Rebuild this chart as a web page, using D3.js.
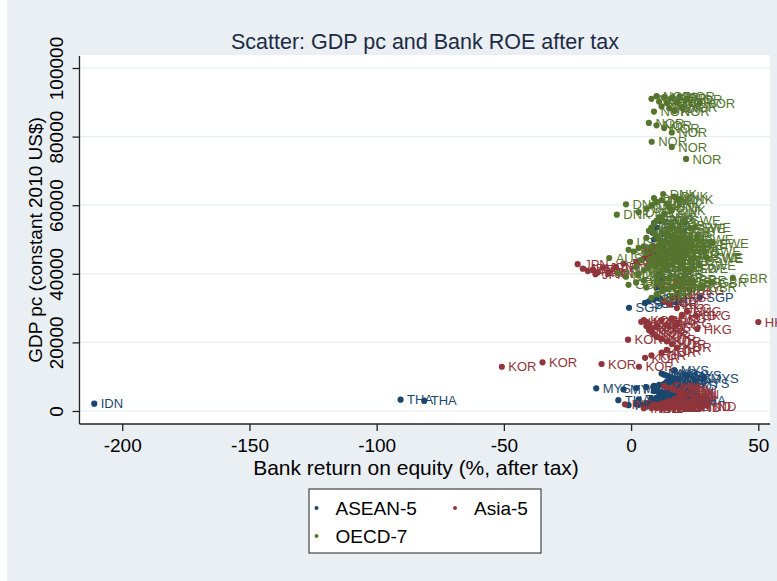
<!DOCTYPE html>
<html>
<head>
<meta charset="utf-8">
<script src="https://cdn.jsdelivr.net/npm/d3@7"></script>
<style>
  body { margin: 0; background: #fff; }
  text { font-family: "Liberation Sans", Arial, Helvetica, sans-serif; }
</style>
</head>
<body>
<div id="chart"></div>
<script>
// tick values
var xTicks = [-200, -150, -100, -50, 0, 50];
var yTicks = [0, 20000, 40000, 60000, 80000, 100000];

// [bank ROE after tax (%), GDP pc constant 2010 US$]
// ASEAN-5
var idn = [[-211,2130],[2,2000],[8,2100],[12,2200],[15,2300],[14,2400],[17,2500],[16,2650],[18,2800],[19,2950],[17,3100],[20,3250],[18,3400],[16,3550],[15,3700],[14,3850],[13,4000],[10,1900],[22,2550],[21,3000]];
var tha = [[-90.6,3300],[-81.3,3000],[-5,3150],[3,3400],[8,3600],[10,3800],[12,3950],[13,4100],[11,4300],[14,4500],[15,4700],[12,4900],[13,5100],[14,5300],[12,5500],[11,5700],[10,5800],[9,5900],[24.5,3200],[20,4000]];
var mys = [[-13.7,6600],[-3,6300],[2,6700],[6,7000],[9,7300],[11,7600],[13,7900],[15,8200],[14,8500],[16,8800],[17,9100],[18,9400],[16,9700],[15,10000],[14,10300],[13,10600],[12,10900],[28.7,9600],[17,11900],[22,10400],[25,8200],[20,7400]];
var phl = [[5,1750],[8,1800],[10,1850],[12,1900],[11,2000],[13,2100],[14,2200],[15,2300],[13,2400],[12,2500],[11,2600],[10,2750],[9,2900],[-1,1700],[3,1800],[16,2000],[7,2300],[18,2700]];
var sgp = [[-0.8,30100],[5.5,31500],[7,32000],[9,32500],[11,33000],[12.6,31800],[27,33200],[10,36000],[12,38000],[11,40000],[13,42000],[12,44000],[10,46000],[11,48000],[9,50000],[10,51000],[8.5,52000],[9,54800],[10,53500],[11,55500]];
// Asia-5
var chn = [[8,1400],[10,1550],[9,1700],[11,1900],[12,2100],[13,2350],[14,2600],[15,2900],[17,3300],[18,3700],[19,4100],[20,4500],[21,4900],[20,5300],[19,5700],[17,6100],[16,6500],[14,6900],[13,7300]];
var ind = [[-2.4,1950],[5,800],[8,850],[10,900],[12,950],[14,1000],[15,1050],[16,1100],[17,1200],[18,1300],[16,1400],[14,1500],[13,1600],[12,1700],[10,1800],[9,1900],[20,1250],[24,1150],[28,1350],[30,1500]];
var jpn = [[-21,42800],[-19,41500],[-17,40800],[-15,41200],[-13,40500],[-11,41800],[-6,42000],[-3,43000],[2,43500],[4,44000],[5,44500],[6,45000],[7,45500],[8,46000],[6,46500],[7,47000],[8,47500],[9,48000],[-9,40200],[-14,39900]];
var kor = [[-50.8,12900],[-34.8,14200],[-11.6,13700],[3.1,12900],[5.5,15500],[8,16200],[-1.2,20800],[12,17000],[14,17800],[18,18500],[16,19500],[14,20300],[12,21000],[10,21700],[9,22400],[8,23000],[7,23600],[8,24200],[6,24800],[7,25400],[6,26000],[5,26500]];
var hkg = [[50,25950],[4,26000],[25.5,27800],[26,23900],[10,24500],[14,25000],[18,25500],[12,26500],[16,27000],[20,28000],[22,29000],[18,30000],[15,31000],[13,32000],[16,33000],[18,34000],[23,35300],[12,36000],[11,37000],[10,38000]];
// OECD-7
var nor = [[8,91000],[10,91800],[13,91500],[16,91200],[19,91600],[22,91000],[11,90200],[14,89800],[18,90000],[27,89800],[12,88800],[15,88300],[20,88600],[9,87300],[17,87500],[7,84000],[10,83300],[13,82500],[16,81200],[8.1,78500],[16,77000],[21.6,73500]];
var dnk = [[12.6,63270],[9,62100],[-2,60260],[-5.6,57230],[3,58000],[6,59000],[8,60000],[10,61000],[12,61500],[14,60500],[15,59500],[16,58500],[13,57500],[11,56500],[10,55500],[9,54500],[8,53500],[7,52500],[17,62500],[19,61800]];
var swe = [[10,38000],[12,39500],[14,41000],[16,42500],[18,44000],[20,45500],[22,47000],[24,48500],[26,50000],[23,53350],[32,49000],[29.5,44900],[25,53500],[21,55500],[29,46500],[30,44500],[27,42500],[24,41500],[19,49000],[17,51000]];
var gbr = [[40,38800],[8,33000],[10,34000],[12,35000],[14,35500],[16,36000],[18,36500],[20,37000],[22,37500],[24,38000],[20,38500],[15,39000],[10,39500],[5,38000],[2,37500],[-1,36800],[6,36000],[12,37000],[28,36000],[32,37500]];
var aus = [[-8.6,44600],[10,42000],[12,43000],[14,44000],[15,45000],[16,46000],[17,47000],[18,48000],[17,49000],[16,50000],[15,51000],[14,52000],[15,53000],[16,54000],[13,55000],[12,56000],[18,45500],[19,50500],[20,52500],[11,47500]];
var usa = [[-0.4,49300],[1,46500],[3,47500],[5,48000],[7,44000],[9,45000],[11,46000],[12,47000],[13,48500],[14,49000],[12,49500],[11,50000],[10,51000],[9,52000],[8,53000],[13,42000],[12,41000],[14,43000],[11,44500],[-1,47000],[6,50500]];
var nld = [[3,40000],[5,41000],[7,42000],[9,43000],[11,44000],[13,45000],[15,46000],[17,47000],[19,48000],[18,49000],[16,50000],[14,51000],[12,52000],[8,48000],[6,46000],[4,44000],[2,42000],[20,44000],[22,46000],[21,41500],[-5,40200],[-2,39150]];

var groupNames = ["ASEAN-5", "Asia-5", "OECD-7"];
var groupColors = ["#1a476f", "#90353b", "#55752f"];
var groupCountries = [
    [["IDN", idn], ["THA", tha], ["MYS", mys], ["PHL", phl], ["SGP", sgp]],
    [["CHN", chn], ["IND", ind], ["JPN", jpn], ["KOR", kor], ["HKG", hkg]],
    [["NOR", nor], ["DNK", dnk], ["SWE", swe], ["GBR", gbr], ["AUS", aus], ["USA", usa], ["NLD", nld]]
];

function init() {
    var w = 777, h = 581;
    var left = 79.5, right = 770, top = 56, bottom = 424;

    var svg = d3.select("#chart").append("svg").attr("width", w).attr("height", h);

    // graph region and plot region
    svg.append("rect").attr("x", 7).attr("y", 0).attr("width", w - 7).attr("height", h).attr("fill", "#e9eff2");
    svg.append("rect").attr("x", left).attr("y", top - 1).attr("width", right - left).attr("height", bottom - top + 1).attr("fill", "#fff");

    var xScale = d3.scaleLinear().domain([-216.8, 54.6]).range([left, right]);
    var yScale = d3.scaleLinear().domain([-3790, 103500]).range([bottom, top]);

    // grid lines
    svg.append("g").selectAll("line").data(yTicks).enter().append("line")
        .attr("x1", left).attr("x2", right)
        .attr("y1", d => yScale(d)).attr("y2", d => yScale(d))
        .attr("stroke", "#e6eef1").attr("stroke-width", 1.2);

    // points, one group at a time
    groupCountries.forEach(function (countries, gi) {
        var pts = [];
        countries.forEach(function (c) {
            c[1].forEach(function (p) { pts.push({code: c[0], roe: p[0], gdp: p[1]}); });
        });
        var g = svg.append("g").attr("fill", groupColors[gi]);
        var items = g.selectAll("g").data(pts).enter().append("g");
        items.append("circle")
            .attr("cx", d => xScale(d.roe))
            .attr("cy", d => yScale(d.gdp))
            .attr("r", 3.1);
        items.append("text")
            .attr("x", d => xScale(d.roe) + 6.5)
            .attr("y", d => yScale(d.gdp))
            .attr("dy", "0.36em")
            .attr("font-size", "13px")
            .text(d => d.code);
    });

    // axes
    var xAxis = d3.axisBottom(xScale).tickValues(xTicks).tickSize(7).tickFormat(d => String(d));
    var yAxis = d3.axisLeft(yScale).tickValues(yTicks).tickSize(7).tickFormat(d => String(d));

    var gx = svg.append("g").attr("transform", "translate(0," + bottom + ")").call(xAxis);
    gx.select(".domain").attr("d", "M" + left + ",0H" + right);
    gx.selectAll(".tick text").attr("y", 28).attr("dy", 0).attr("font-size", "19px").attr("fill", "#000");

    var gy = svg.append("g").attr("transform", "translate(" + left + ",0)").call(yAxis);
    gy.select(".domain").attr("d", "M0," + top + "V" + bottom);
    gy.selectAll(".tick text")
        .attr("transform", "rotate(-90)")
        .attr("text-anchor", "middle")
        .attr("x", 0).attr("y", -17).attr("dy", 0)
        .attr("font-size", "19px").attr("fill", "#000");
    svg.selectAll(".domain, .tick line").attr("stroke", "#222").attr("stroke-width", 1.3);

    // titles
    svg.append("text").attr("x", 425).attr("y", 49)
        .attr("text-anchor", "middle").attr("font-size", "21.5px").attr("fill", "#1c2b45")
        .text("Scatter: GDP pc and Bank ROE after tax");
    svg.append("text").attr("x", 416).attr("y", 475)
        .attr("text-anchor", "middle").attr("font-size", "21px")
        .text("Bank return on equity (%, after tax)");
    svg.append("text").attr("transform", "translate(42," + ((top + bottom) / 2) + ") rotate(-90)")
        .attr("text-anchor", "middle").attr("font-size", "19px")
        .text("GDP pc (constant 2010 US$)");

    // legend
    var lg = svg.append("g");
    lg.append("rect").attr("x", 309).attr("y", 489).attr("width", 232).attr("height", 64)
        .attr("fill", "#fff").attr("stroke", "#222").attr("stroke-width", 1);
    var legendPos = [[316.5, 508], [455, 508], [316.5, 536]];
    groupNames.forEach(function (name, i) {
        lg.append("circle").attr("cx", legendPos[i][0]).attr("cy", legendPos[i][1]).attr("r", 2)
            .attr("fill", groupColors[i]);
        lg.append("text").attr("x", legendPos[i][0] + 19).attr("y", legendPos[i][1])
            .attr("dy", "0.36em").attr("font-size", "19px").text(name);
    });
}
window.onload = init;
</script>
</body>
</html>
